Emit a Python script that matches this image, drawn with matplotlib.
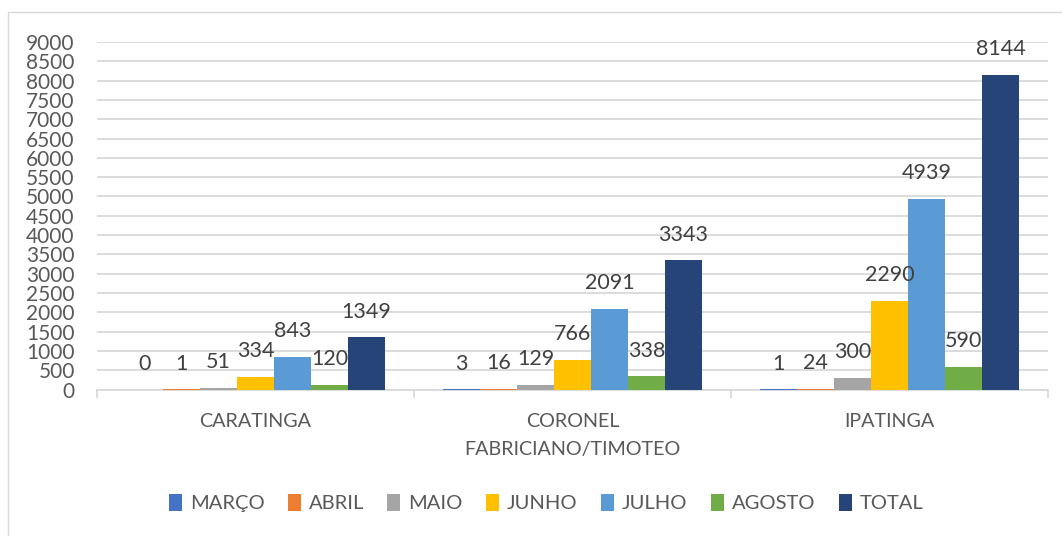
import matplotlib
matplotlib.use("Agg")
import matplotlib.pyplot as plt
import numpy as np
from matplotlib.patches import Rectangle, Patch

categories = ["CARATINGA", "CORONEL\nFABRICIANO/TIMOTEO", "IPATINGA"]
series_names = ["MARÇO", "ABRIL", "MAIO", "JUNHO", "JULHO", "AGOSTO", "TOTAL"]
marco = [0, 3, 1]
abril = [1, 16, 24]
maio = [51, 129, 300]
junho = [334, 766, 2290]
julho = [843, 2091, 4939]
agosto = [120, 338, 590]
total = [1349, 3343, 8144]
yticks = list(range(0, 9001, 500))

series_values = [marco, abril, maio, junho, julho, agosto, total]
colors = ["#4472C4", "#ED7D31", "#A5A5A5", "#FFC000", "#5B9BD5", "#70AD47", "#264478"]

plt.rcParams['font.family'] = ['Lato', 'DejaVu Sans']

W, H = 1062, 536
fig = plt.figure(figsize=(W/100, H/100), dpi=100)
fig.patches.append(Rectangle((8/W, -0.1), 1.2, 1 - 12/H + 0.1, transform=fig.transFigure,
                             fill=False, edgecolor="#D9D9D9", linewidth=1.0))

ax = fig.add_axes([97/W, 1 - 389.5/H, (1048-97)/W, (389.5-42)/H])
x = np.arange(len(categories))
w = 37/317
n = len(series_names)
for i, (name, vals, c) in enumerate(zip(series_names, series_values, colors)):
    pos = x + (i - (n-1)/2) * w
    ax.bar(pos, vals, width=w, color=c, label=name, zorder=3)
    for px, v in zip(pos, vals):
        ax.annotate(str(v), (px, v), xytext=(0, 18.5), textcoords="offset points",
                    ha="center", va="center", fontsize=15.5, color="#404040", zorder=4)

ax.set_xlim(-0.5, len(categories) - 0.5)
ax.set_ylim(0, 9000)
ax.set_yticks(yticks)
ax.set_yticklabels([str(t) for t in yticks], fontsize=15, color="#595959")
ax.yaxis.grid(True, color="#D9D9D9", linewidth=1.3, zorder=0)
ax.tick_params(axis="y", length=0, pad=16)
ax.set_xticks(x)
ax.set_xticklabels(categories, fontsize=14.2, color="#595959", linespacing=1.75)
ax.tick_params(axis="x", length=0, pad=17)
ax.set_xticks(np.arange(-0.5, len(categories), 1.0), minor=True)
ax.tick_params(axis="x", which="minor", length=6, color="#D9D9D9", width=1.3)
for s in ["top", "right", "left"]:
    ax.spines[s].set_visible(False)
ax.spines["bottom"].set_color("#D9D9D9")
ax.spines["bottom"].set_linewidth(1.3)

handles = [Patch(facecolor=c, label=nm) for nm, c in zip(series_names, colors)]
fig.legend(handles=handles, loc="center", bbox_to_anchor=(546/W, 1 - 503/H), ncol=7,
           frameon=False, fontsize=14.5, handlelength=0.65, handleheight=0.9,
           handletextpad=0.4, columnspacing=1.15, labelcolor="#595959")

fig.savefig("out.png", dpi=100)
